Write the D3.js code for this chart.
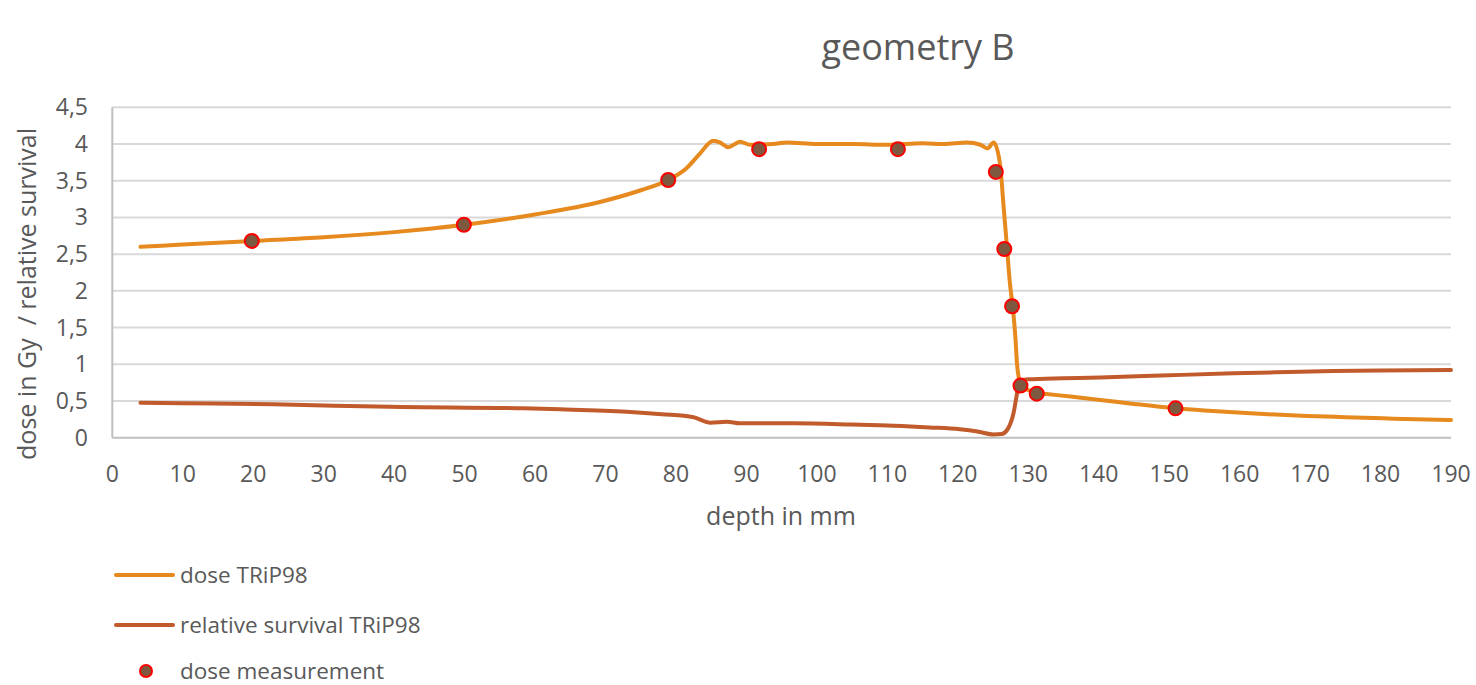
<!DOCTYPE html>
<html>
<head>
<meta charset="utf-8">
<script src="https://cdn.jsdelivr.net/npm/d3@7"></script>
<style>
body{margin:0;background:#fff;}
text{font-family:"Open Sans",sans-serif;fill:#595959;}
</style>
</head>
<body>
<script>
// depth values (mm) and dose (Gy) for the TRiP98 dose curve
var doseDepth = [4,10,20,30,40,50,60,69.2,75,78.9,81.5,83.4,85.3,86.3,87.4,88.2,89.1,90.5,93.8,95.7,100,105,110,115,118,121.3,123.2,124.2,125.1,126,126.5,127,127.4,127.8,128.2,128.4,128.7,129.1,130,131.2,132.6,136,140.2,145,150.9,155,159.1,165,169.6,175,180.4,185,190];
var doseVal   = [2.60,2.63,2.68,2.73,2.80,2.90,3.04,3.21,3.37,3.51,3.67,3.87,4.045,4.02,3.955,3.99,4.03,3.99,4.00,4.02,4.00,4.00,3.99,4.01,4.00,4.02,3.99,3.94,4.02,3.72,3.15,2.57,2.10,1.78,1.33,1.01,0.79,0.695,0.65,0.61,0.595,0.56,0.515,0.46,0.40,0.37,0.345,0.315,0.296,0.28,0.264,0.25,0.24];

// relative survival curve
var survDepth = [4,10,22.9,39.4,58.3,63.6,73,78,82.5,84.9,87.2,89.1,96.7,105,110.9,116,120.3,123,125.1,126.2,127,127.5,127.9,128.4,128.7,129.9,135,140.2,150,159.1,165,173.3,180,190];
var survVal   = [0.477,0.47,0.455,0.42,0.40,0.387,0.354,0.32,0.278,0.205,0.218,0.196,0.196,0.18,0.164,0.14,0.114,0.08,0.045,0.05,0.105,0.2,0.33,0.60,0.76,0.795,0.81,0.82,0.85,0.877,0.89,0.908,0.915,0.922];

// measured dose points
var measDepth = [19.8,49.9,78.9,91.8,111.5,125.4,126.6,127.7,128.9,131.2,150.9];
var measVal   = [2.68,2.90,3.51,3.93,3.93,3.62,2.57,1.79,0.71,0.60,0.40];

var xTicks = d3.range(0,191,10);
var yTicks = [0,0.5,1,1.5,2,2.5,3,3.5,4,4.5];
var legendLabels = ["dose TRiP98","relative survival TRiP98","dose measurement"];

var colDose="#E6891E", colSurv="#C25B2C", colMeasFill="#7F5840", colMeasStroke="#FF0000";

var W=1476,H=685;
var svg=d3.select("body").append("svg").attr("width",W).attr("height",H);

var x=d3.scaleLinear().domain([0,190]).range([112.3,1451]);
var y=d3.scaleLinear().domain([0,4.5]).range([437.7,107.3]);

var fmt=function(d){return String(d).replace(".",",");};

// grid
svg.append("g").selectAll("line").data(yTicks.slice(1)).join("line")
	.attr("x1",x(0)).attr("x2",x(190)).attr("y1",d=>y(d)).attr("y2",d=>y(d))
	.attr("stroke","#D9D9D9").attr("stroke-width",2);

// axes lines
svg.append("line").attr("x1",x(0)).attr("x2",x(0)).attr("y1",y(4.5)).attr("y2",y(0))
	.attr("stroke","#BFBFBF").attr("stroke-width",2);
svg.append("line").attr("x1",x(0)).attr("x2",x(190)).attr("y1",y(0)).attr("y2",y(0))
	.attr("stroke","#BFBFBF").attr("stroke-width",2);

// tick labels
svg.append("g").selectAll("text").data(yTicks).join("text")
	.attr("x",88).attr("y",d=>y(d)+8).attr("text-anchor","end")
	.attr("font-size",23).text(fmt);
svg.append("g").selectAll("text").data(xTicks).join("text")
	.attr("x",d=>x(d)).attr("y",482).attr("text-anchor","middle")
	.attr("font-size",23).text(d=>d);

// titles
svg.append("text").attr("x",918).attr("y",60).attr("text-anchor","middle")
	.attr("font-size",36).text("geometry B");
svg.append("text").attr("x",781).attr("y",525).attr("text-anchor","middle")
	.attr("font-size",25).text("depth in mm");
svg.append("text").attr("transform","translate(36,294) rotate(-90)").attr("text-anchor","middle")
	.style("white-space","pre").attr("font-size",25).text("dose in Gy  / relative survival");

// curves
var line=d3.line().x(d=>x(d[0])).y(d=>y(d[1])).curve(d3.curveMonotoneX);
svg.append("path").datum(d3.zip(survDepth,survVal)).attr("d",line)
	.attr("fill","none").attr("stroke",colSurv).attr("stroke-width",4).attr("stroke-linecap","round");
svg.append("path").datum(d3.zip(doseDepth,doseVal)).attr("d",line)
	.attr("fill","none").attr("stroke",colDose).attr("stroke-width",4).attr("stroke-linecap","round");

// measurements
svg.append("g").selectAll("circle").data(d3.zip(measDepth,measVal)).join("circle")
	.attr("cx",d=>x(d[0])).attr("cy",d=>y(d[1])).attr("r",7)
	.attr("fill",colMeasFill).attr("stroke",colMeasStroke).attr("stroke-width",2);

// legend
var lg=svg.append("g");
var ly=[575,625,671];
lg.append("line").attr("x1",116).attr("x2",173).attr("y1",ly[0]).attr("y2",ly[0])
	.attr("stroke",colDose).attr("stroke-width",4).attr("stroke-linecap","round");
lg.append("line").attr("x1",116).attr("x2",173).attr("y1",ly[1]).attr("y2",ly[1])
	.attr("stroke",colSurv).attr("stroke-width",4).attr("stroke-linecap","round");
lg.append("circle").attr("cx",146).attr("cy",ly[2]).attr("r",6)
	.attr("fill",colMeasFill).attr("stroke",colMeasStroke).attr("stroke-width",2);
lg.selectAll("text").data(legendLabels).join("text")
	.attr("x",180).attr("y",(d,i)=>ly[i]+8).attr("font-size",22.5).text(d=>d);
</script>
</body>
</html>
